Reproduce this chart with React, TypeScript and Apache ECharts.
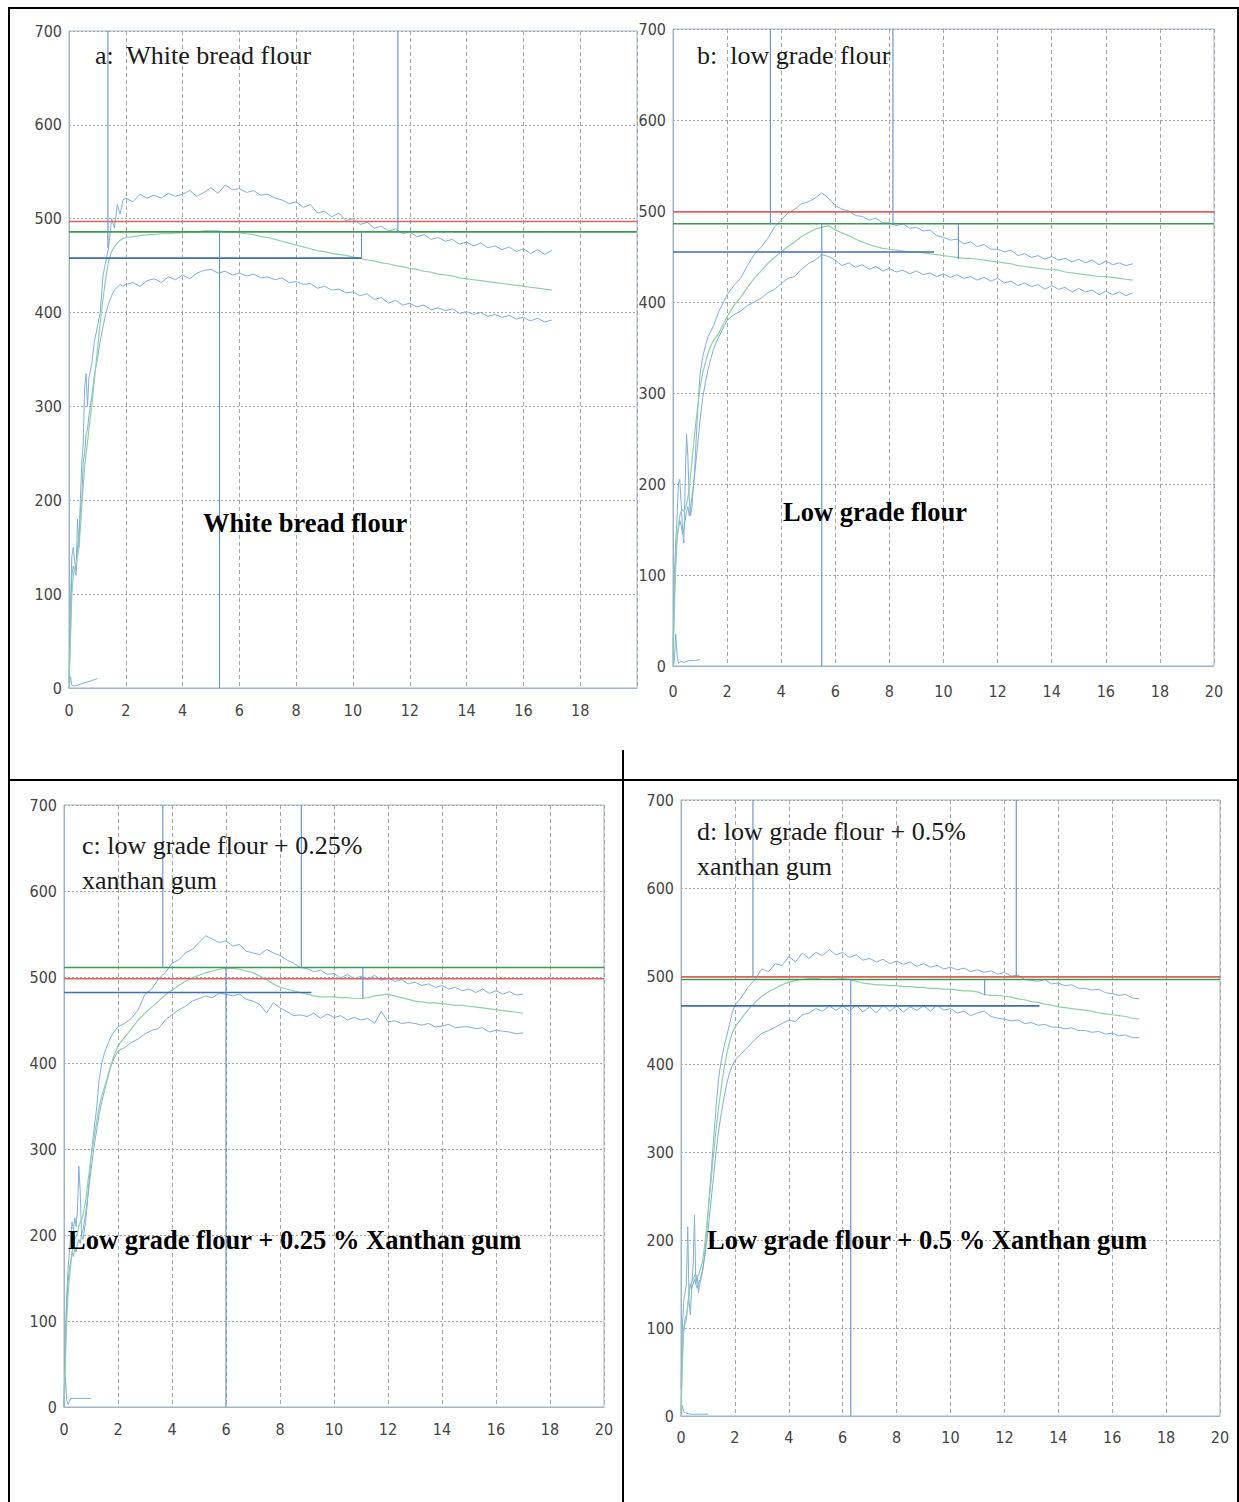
import React, { useEffect, useRef } from "react";
import * as echarts from "echarts";

// time axis (min) shared by every curve
const T = [
  0, 0.05, 0.1, 0.15, 0.2, 0.25, 0.3, 0.35, 0.4, 0.45, 0.5, 0.55, 0.6, 0.65, 0.7,
  0.8, 0.9, 1.0, 1.1, 1.2, 1.3, 1.4, 1.5, 1.6, 1.7, 1.8, 1.9,
  2, 2.25, 2.5, 2.75, 3, 3.25, 3.5, 3.75, 4, 4.25, 4.5, 4.75, 5, 5.25, 5.5, 5.75,
  6, 6.25, 6.5, 6.75, 7, 7.25, 7.5, 7.75, 8, 8.25, 8.5, 8.75, 9, 9.25, 9.5, 9.75,
  10, 10.25, 10.5, 10.75, 11, 11.25, 11.5, 11.75, 12, 12.25, 12.5, 12.75,
  13, 13.25, 13.5, 13.75, 14, 14.25, 14.5, 14.75, 15, 15.25, 15.5, 15.75,
  16, 16.25, 16.5, 16.75, 17,
];

// a: White bread flour
const A_UPPER = [
  10, 90, 140, 150, 135, 125, 180, 150, 200, 240, 260, 320, 335, 300, 330,
  345, 370, 385, 400, 440, 455, 470, 500, 490, 515, 505, 520,
  522, 518, 526, 522, 525, 522, 527, 524, 526, 530, 524, 528, 533, 527, 536, 531,
  532, 528, 530, 525, 526, 522, 520, 516, 518, 512, 515, 506, 508, 502, 506, 498,
  500, 494, 496, 490, 492, 487, 489, 484, 486, 481, 483, 478,
  480, 476, 478, 473, 475, 471, 474, 469, 471, 467, 470, 465,
  468, 463, 467, 462, 466,
];
const A_MID = [
  0, 50, 100, 120, 128, 132, 140, 150, 170, 195, 215, 235, 250, 262, 275,
  300, 330, 360, 390, 415, 438, 456, 465, 470, 474, 477, 479,
  480, 481, 482, 483, 483, 484, 484, 485, 485, 486, 486, 487, 487, 487, 486, 486,
  485, 484, 483, 481, 480, 478, 476, 474, 472, 470, 468, 466, 465, 463, 462, 461,
  459, 458, 456, 455, 453, 452, 450, 449, 447, 446, 444, 443,
  441, 440, 439, 437, 436, 435, 434, 433, 432, 431, 430, 429,
  428, 427, 426, 425, 424,
];
const A_LOWER = [
  5, 60, 120, 130, 125, 120, 150, 160, 190, 200, 240, 250, 270, 275, 290,
  310, 335, 350, 370, 385, 400, 410, 418, 424, 427, 430, 428,
  430, 432, 428, 434, 436, 432, 438, 435, 440, 436, 442, 445, 446, 442, 444, 440,
  442, 439, 441, 437, 438, 435, 437, 432, 433, 430, 431, 426, 428, 424, 425, 421,
  422, 418, 420, 414, 416, 410, 413, 408, 410, 406, 408, 403,
  405, 402, 404, 399, 401, 398, 400, 396, 398, 395, 397, 393,
  395, 391, 394, 390, 392,
];
const A_START_T = [0, 0.05, 0.1, 0.2, 0.4, 0.6, 0.8, 1.0];
const A_START = [0, 12, 3, 2, 4, 6, 8, 10];

// b: low grade flour
const B_UPPER = [
  20, 100, 135, 165, 200, 205, 180, 150, 135, 200, 255, 230, 185, 165, 175,
  215, 275, 320, 340, 352, 362, 368, 374, 382, 390, 396, 402,
  408, 418, 426, 440, 452, 460, 470, 482, 490, 498, 502, 508, 510, 514, 520, 514,
  506, 502, 500, 495, 494, 490, 492, 487, 487, 484, 486, 481, 482, 478, 479, 473,
  471, 468, 469, 464, 466, 461, 463, 458, 458, 455, 457, 451,
  453, 449, 451, 447, 450, 446, 448, 444, 447, 443, 446, 441,
  445, 441, 443, 440, 442,
];
const B_MID = [
  0, 60, 110, 140, 155, 165, 170, 172, 170, 172, 178, 185, 195, 210, 225,
  255, 282, 306, 322, 334, 344, 352, 358, 362, 366, 372, 378,
  384, 396, 405, 416, 426, 434, 442, 449, 455, 461, 466, 472, 476, 480, 482, 484,
  479, 476, 473, 469, 466, 463, 461, 459, 458, 457, 456, 455, 455, 454, 453, 452,
  451, 450, 449, 448, 448, 447, 446, 445, 444, 443, 442, 440,
  439, 438, 437, 436, 436, 435, 433, 432, 431, 430, 429, 428,
  428, 427, 426, 425, 424,
];
const B_LOWER = [
  10, 80, 120, 140, 150, 160, 155, 145, 150, 160, 170, 175, 165, 175, 185,
  210, 240, 270, 295, 312, 326, 338, 348, 356, 362, 368, 374,
  380, 386, 390, 396, 400, 404, 410, 414, 420, 426, 428, 436, 442, 446, 452, 450,
  446, 440, 443, 438, 441, 436, 439, 434, 437, 433, 435, 431, 434, 430, 432, 428,
  431, 427, 430, 426, 428, 424, 427, 423, 426, 421, 423, 418,
  421, 417, 419, 414, 418, 414, 416, 411, 415, 411, 413, 408,
  412, 408, 411, 407, 410,
];
const B_START_T = [0, 0.05, 0.1, 0.15, 0.2, 0.3, 0.4, 0.6, 0.8, 1.0];
const B_START = [0, 5, 35, 12, 3, 5, 4, 6, 6, 7];

// c: low grade flour + 0.25% xanthan gum
const C_UPPER = [
  0, 80, 130, 160, 180, 200, 215, 205, 220, 210, 230, 280, 250, 200, 195,
  215, 250, 290, 320, 345, 380, 400, 412, 420, 428, 434, 438,
  442, 446, 452, 462, 480, 486, 498, 505, 516, 520, 528, 532, 540, 548, 544, 540,
  542, 536, 538, 530, 528, 526, 532, 528, 525, 520, 516, 511, 510, 506, 508, 503,
  504, 499, 503, 498, 501, 497, 502, 496, 499, 495, 497, 492,
  494, 490, 492, 488, 490, 486, 488, 484, 486, 482, 486, 481,
  484, 480, 483, 479, 480,
];
const C_MID = [
  0, 50, 100, 130, 150, 165, 180, 190, 195, 198, 202, 210, 215, 218, 222,
  240, 265, 290, 310, 330, 348, 362, 372, 382, 394, 404, 412,
  420, 430, 440, 450, 458, 465, 472, 479, 485, 490, 495, 499, 502, 505, 507, 509,
  510, 510, 509, 507, 505, 501, 497, 492, 488, 486, 484, 482, 480, 478, 477, 477,
  477, 476, 476, 475, 475, 476, 478, 479, 480, 478, 476, 474,
  472, 471, 470, 470, 469, 468, 467, 467, 466, 465, 464, 463,
  462, 461, 460, 459, 458,
];
const C_LOWER = [
  5, 70, 120, 145, 160, 170, 180, 175, 185, 180, 190, 195, 190, 200, 205,
  225, 250, 275, 300, 320, 340, 355, 368, 380, 392, 402, 408,
  414, 418, 424, 428, 434, 438, 440, 450, 456, 462, 466, 472, 475, 478, 476, 481,
  480, 478, 480, 474, 472, 468, 458, 470, 464, 460, 455, 456, 454, 458, 452, 457,
  453, 455, 450, 453, 450, 452, 446, 460, 448, 449, 446, 447,
  446, 444, 446, 442, 443, 445, 441, 442, 442, 440, 441, 436,
  438, 437, 436, 434, 435,
];
const C_START_T = [0, 0.05, 0.1, 0.15, 0.25, 0.5, 0.75, 1.0];
const C_START = [0, 35, 8, 3, 10, 10, 10, 10];

// d: low grade flour + 0.5% xanthan gum
const D_UPPER = [
  30, 100, 130, 140, 150, 215, 130, 115, 150, 170, 228, 150, 160, 140, 150,
  165, 190, 230, 270, 310, 350, 385, 405, 420, 432, 445, 458,
  467, 476, 488, 496, 508, 505, 514, 512, 522, 516, 526, 520, 527, 523, 530, 524,
  527, 521, 524, 518, 520, 516, 519, 514, 517, 513, 516, 511, 514, 510, 512, 508,
  510, 507, 509, 505, 507, 504, 506, 502, 504, 500, 501, 496,
  495, 494, 496, 491, 492, 489, 490, 486, 486, 484, 485, 481,
  480, 478, 479, 475, 474,
];
const D_MID = [
  0, 60, 95, 105, 110, 125, 140, 150, 152, 155, 160, 160, 158, 160, 165,
  175, 200, 230, 262, 295, 325, 352, 375, 395, 412, 425, 435,
  442, 452, 462, 470, 477, 482, 486, 490, 493, 495, 496, 497, 497, 498, 498, 498,
  497, 496, 494, 492, 491, 490, 490, 489, 489, 488, 488, 487, 487, 486, 486, 485,
  485, 484, 483, 483, 482, 479, 478, 478, 477, 476, 474, 473,
  471, 470, 468, 467, 465, 464, 463, 462, 461, 460, 458, 457,
  456, 455, 454, 452, 451,
];
const D_LOWER = [
  5, 70, 100, 110, 115, 125, 140, 150, 145, 150, 155, 150, 145, 150, 155,
  165, 185, 210, 240, 270, 300, 325, 345, 362, 378, 390, 398,
  404, 412, 420, 428, 435, 438, 442, 446, 450, 448, 456, 458, 463, 460, 466, 461,
  466, 460, 467, 459, 465, 458, 467, 460, 466, 459, 465, 461, 466, 460, 467, 461,
  463, 458, 460, 455, 458, 460, 454, 452, 451, 449, 450, 446,
  447, 444, 445, 442, 442, 440, 441, 438, 438, 436, 437, 434,
  435, 432, 433, 430, 430,
];
const D_START_T = [0, 0.05, 0.1, 0.2, 0.4, 0.6, 0.8, 1.0];
const D_START = [0, 12, 5, 3, 2, 2, 2, 2];

// reference lines of each panel (a, b, c, d)
const RED_LEVEL = [497, 499, 498, 499];
const GREEN_LEVEL = [486, 486, 511, 496];
const BLUE_LEVEL = [458, 455, 482, 466];
const BLUE_END = [10.3, 9.65, 9.16, 13.3];
// vertical markers: [time, from, to]
const V_MARKS = [
  [[1.37, 469, 700], [11.58, 485, 700], [5.3, 0, 486], [10.3, 458, 486]],
  [[3.6, 485, 700], [8.13, 486, 700], [5.5, 0, 486], [10.55, 447, 486]],
  [[3.66, 511, 700], [8.79, 511, 700], [6.0, 0, 511], [11.07, 475, 511]],
  [[2.67, 499, 700], [12.44, 500, 700], [6.3, 0, 497], [11.27, 478, 497]],
];

const UPPER = [A_UPPER, B_UPPER, C_UPPER, D_UPPER];
const MID = [A_MID, B_MID, C_MID, D_MID];
const LOWER = [A_LOWER, B_LOWER, C_LOWER, D_LOWER];
const START_T = [A_START_T, B_START_T, C_START_T, D_START_T];
const START = [A_START, B_START, C_START, D_START];

const TITLES = [
  ["a:  White bread flour"],
  ["b:  low grade flour"],
  ["c: low grade flour + 0.25%", "xanthan gum"],
  ["d: low grade flour + 0.5%", "xanthan gum"],
];
const CAPTIONS = [
  "White bread flour",
  "Low grade flour",
  "Low grade flour + 0.25 % Xanthan gum",
  "Low grade flour + 0.5 % Xanthan gum",
];

// layout
const GRIDS = [
  { left: 69, top: 31, width: 568, height: 657, xMargin: 14 },
  { left: 673, top: 29, width: 541, height: 637, xMargin: 17 },
  { left: 64, top: 805, width: 540, height: 602, xMargin: 14 },
  { left: 681, top: 800, width: 539, height: 616, xMargin: 13 },
];
const TITLE_POS = [[95, 55], [697, 55], [82, 845], [697, 831]];
const CAPTION_POS = [[203, 523], [783, 512], [68, 1240], [707, 1240]];

const COL_CURVE = "#7eb0da";
const COL_MID = "#8fd1a6";
const COL_RED = "#e2605c";
const COL_GREEN = "#3c9c52";
const COL_BLUE_H = "#3f6db6";
const COL_BLUE_V = "#5d90cc";
const LABEL_FONT = "'DejaVu Sans Condensed', 'Liberation Sans Narrow', 'Liberation Sans', sans-serif";
const SERIF = "'Liberation Serif', 'Times New Roman', serif";

function pairs(ts: number[], vs: number[]) {
  const n = Math.min(ts.length, vs.length);
  const out: number[][] = [];
  for (let i = 0; i < n; i++) out.push([ts[i], vs[i]]);
  return out;
}

function buildOption() {
  const grid: any[] = [];
  const xAxis: any[] = [];
  const yAxis: any[] = [];
  const series: any[] = [];
  const graphic: any[] = [];

  GRIDS.forEach((g, i) => {
    grid.push({
      left: g.left, top: g.top, width: g.width, height: g.height,
      show: true, borderColor: "#9fb4c8", borderWidth: 1, backgroundColor: "transparent",
    });
    xAxis.push({
      type: "value", gridIndex: i, min: 0, max: 20, interval: 2,
      axisLine: { show: true, lineStyle: { color: "#9fb4c8" } },
      axisTick: { show: false },
      splitLine: { show: true, lineStyle: { color: "#a8a8a8", type: [4, 3], width: 1 } },
      axisLabel: {
        margin: g.xMargin, fontSize: 16, color: "#444", fontFamily: LABEL_FONT,
        showMaxLabel: true, showMinLabel: true,
        formatter: (v: number) => (i === 0 && v === 20 ? "" : String(v)),
      },
    });
    yAxis.push({
      type: "value", gridIndex: i, min: 0, max: 700, interval: 100,
      axisLine: { show: true, lineStyle: { color: "#9fb4c8" } },
      axisTick: { show: false },
      splitLine: { show: true, lineStyle: { color: "#a8a8a8", type: [2, 2], width: 1 } },
      axisLabel: { margin: 7, fontSize: 16, color: "#444", fontFamily: LABEL_FONT },
    });

    const base = { type: "line", xAxisIndex: i, yAxisIndex: i, symbol: "none", silent: true };
    series.push({ ...base, data: pairs(START_T[i], START[i]), lineStyle: { color: COL_CURVE, width: 1 } });
    series.push({ ...base, data: pairs(T, LOWER[i]), lineStyle: { color: COL_CURVE, width: 1 } });
    series.push({ ...base, data: pairs(T, UPPER[i]), lineStyle: { color: COL_CURVE, width: 1 } });
    series.push({ ...base, data: pairs(T, MID[i]), lineStyle: { color: COL_MID, width: 1.2 } });
    series.push({ ...base, data: [[0, RED_LEVEL[i]], [20, RED_LEVEL[i]]], lineStyle: { color: COL_RED, width: 1.6 } });
    series.push({ ...base, data: [[0, GREEN_LEVEL[i]], [20, GREEN_LEVEL[i]]], lineStyle: { color: COL_GREEN, width: 1.6 } });
    series.push({ ...base, data: [[0, BLUE_LEVEL[i]], [BLUE_END[i], BLUE_LEVEL[i]]], lineStyle: { color: COL_BLUE_H, width: 1.6 } });
    V_MARKS[i].forEach((m) => {
      series.push({ ...base, data: [[m[0], m[1]], [m[0], m[2]]], lineStyle: { color: COL_BLUE_V, width: 1.1 } });
    });

    TITLES[i].forEach((t, k) => {
      graphic.push({
        type: "text", x: TITLE_POS[i][0], y: TITLE_POS[i][1] + k * 35, z: 100,
        style: { text: t, fill: "#1a1a1a", font: `26px ${SERIF}`, verticalAlign: "middle", textVerticalAlign: "middle" },
      });
    });
    graphic.push({
      type: "text", x: CAPTION_POS[i][0], y: CAPTION_POS[i][1], z: 100,
      style: { text: CAPTIONS[i], fill: "#000", font: `bold 26.5px ${SERIF}`, verticalAlign: "middle", textVerticalAlign: "middle" },
    });
  });

  const border = (x1: number, y1: number, x2: number, y2: number) => ({
    type: "line", z: 200, shape: { x1, y1, x2, y2 }, style: { stroke: "#000", lineWidth: 2 },
  });
  graphic.push(border(8, 8, 1239, 8));
  graphic.push(border(9, 8, 9, 1502));
  graphic.push(border(1238, 8, 1238, 1502));
  graphic.push(border(8, 780, 1239, 780));
  graphic.push(border(623, 750, 623, 1502));

  return {
    animation: false,
    backgroundColor: "#ffffff",
    grid, xAxis, yAxis, series, graphic,
  };
}

export default function App() {
  const ref = useRef<HTMLDivElement>(null);
  useEffect(() => {
    if (!ref.current) return;
    const chart = echarts.init(ref.current, undefined, { renderer: "svg" });
    chart.setOption(buildOption() as any);
    return () => chart.dispose();
  }, []);
  return (
    <div
      ref={ref}
      style={{ position: "absolute", left: 0, top: 0, width: 1239, height: 1502 }}
    />
  );
}
